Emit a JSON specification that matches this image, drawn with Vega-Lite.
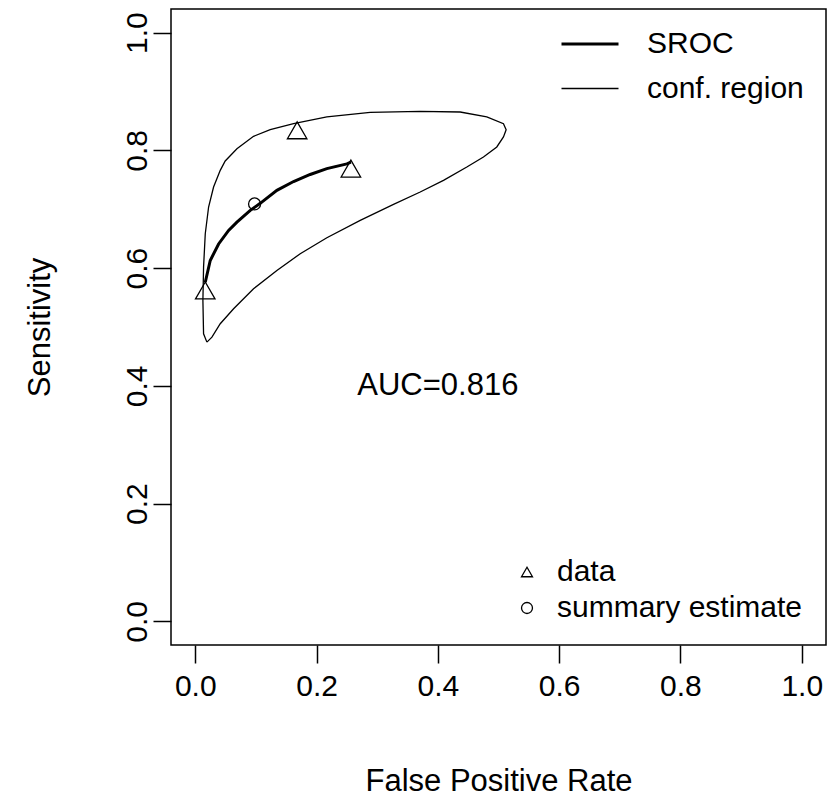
{
  "$schema": "https://vega.github.io/schema/vega-lite/v6.json",
  "width": 655,
  "height": 636,
  "autosize": {"type": "none"},
  "padding": {"left": 171, "top": 9, "right": 2, "bottom": 153},
  "background": "white",
  "config": {
    "font": "Liberation Sans",
    "view": {"stroke": "black", "strokeWidth": 1.5},
    "axis": {
      "grid": false,
      "domain": false,
      "tickColor": "black",
      "tickWidth": 1.5,
      "tickSize": 18,
      "labelFont": "Liberation Sans",
      "labelFontSize": 30,
      "labelColor": "black",
      "labelFlush": false,
      "labelOverlap": false,
      "titleFont": "Liberation Sans",
      "titleFontSize": 31,
      "titleFontWeight": "normal",
      "titleColor": "black"
    },
    "legend": {
      "labelFont": "Liberation Sans",
      "labelFontSize": 30,
      "labelColor": "black",
      "labelLimit": 0,
      "padding": 0
    }
  },
  "datasets": {
    "lines": [
      {"series": "SROC", "order": 1, "x": 0.0165, "y": 0.576},
      {"series": "SROC", "order": 2, "x": 0.0247, "y": 0.613},
      {"series": "SROC", "order": 3, "x": 0.0385, "y": 0.641},
      {"series": "SROC", "order": 4, "x": 0.0550, "y": 0.664},
      {"series": "SROC", "order": 5, "x": 0.0687, "y": 0.678},
      {"series": "SROC", "order": 6, "x": 0.0907, "y": 0.698},
      {"series": "SROC", "order": 7, "x": 0.1071, "y": 0.710},
      {"series": "SROC", "order": 8, "x": 0.1346, "y": 0.732},
      {"series": "SROC", "order": 9, "x": 0.1621, "y": 0.747},
      {"series": "SROC", "order": 10, "x": 0.1895, "y": 0.759},
      {"series": "SROC", "order": 11, "x": 0.2170, "y": 0.769},
      {"series": "SROC", "order": 12, "x": 0.2500, "y": 0.777},
      {"series": "SROC", "order": 13, "x": 0.2566, "y": 0.780},
      {"series": "conf. region", "order": 1, "x": 0.0192, "y": 0.4743},
      {"series": "conf. region", "order": 2, "x": 0.0137, "y": 0.4885},
      {"series": "conf. region", "order": 3, "x": 0.0126, "y": 0.5451},
      {"series": "conf. region", "order": 4, "x": 0.0137, "y": 0.6018},
      {"series": "conf. region", "order": 5, "x": 0.0165, "y": 0.6584},
      {"series": "conf. region", "order": 6, "x": 0.0220, "y": 0.7037},
      {"series": "conf. region", "order": 7, "x": 0.0302, "y": 0.7377},
      {"series": "conf. region", "order": 8, "x": 0.0412, "y": 0.7660},
      {"series": "conf. region", "order": 9, "x": 0.0494, "y": 0.7819},
      {"series": "conf. region", "order": 10, "x": 0.0687, "y": 0.8028},
      {"series": "conf. region", "order": 11, "x": 0.0961, "y": 0.8238},
      {"series": "conf. region", "order": 12, "x": 0.1236, "y": 0.8351},
      {"series": "conf. region", "order": 13, "x": 0.1621, "y": 0.8453},
      {"series": "conf. region", "order": 14, "x": 0.2170, "y": 0.8567},
      {"series": "conf. region", "order": 15, "x": 0.2884, "y": 0.8646},
      {"series": "conf. region", "order": 16, "x": 0.3709, "y": 0.8663},
      {"series": "conf. region", "order": 17, "x": 0.4368, "y": 0.8651},
      {"series": "conf. region", "order": 18, "x": 0.4807, "y": 0.8567},
      {"series": "conf. region", "order": 19, "x": 0.5082, "y": 0.8453},
      {"series": "conf. region", "order": 20, "x": 0.5126, "y": 0.8351},
      {"series": "conf. region", "order": 21, "x": 0.5082, "y": 0.8227},
      {"series": "conf. region", "order": 22, "x": 0.4972, "y": 0.8057},
      {"series": "conf. region", "order": 23, "x": 0.4752, "y": 0.7887},
      {"series": "conf. region", "order": 24, "x": 0.4478, "y": 0.7717},
      {"series": "conf. region", "order": 25, "x": 0.4093, "y": 0.7490},
      {"series": "conf. region", "order": 26, "x": 0.3709, "y": 0.7292},
      {"series": "conf. region", "order": 27, "x": 0.3269, "y": 0.7082},
      {"series": "conf. region", "order": 28, "x": 0.2720, "y": 0.6811},
      {"series": "conf. region", "order": 29, "x": 0.2170, "y": 0.6516},
      {"series": "conf. region", "order": 30, "x": 0.1731, "y": 0.6244},
      {"series": "conf. region", "order": 31, "x": 0.1346, "y": 0.5961},
      {"series": "conf. region", "order": 32, "x": 0.0961, "y": 0.5649},
      {"series": "conf. region", "order": 33, "x": 0.0632, "y": 0.5310},
      {"series": "conf. region", "order": 34, "x": 0.0412, "y": 0.5055},
      {"series": "conf. region", "order": 35, "x": 0.0275, "y": 0.4828},
      {"series": "conf. region", "order": 36, "x": 0.0192, "y": 0.4743}
    ],
    "points": [
      {"type": "data", "x": 0.168, "y": 0.834},
      {"type": "data", "x": 0.2566, "y": 0.769},
      {"type": "data", "x": 0.0165, "y": 0.562},
      {"type": "summary estimate", "x": 0.0978, "y": 0.709}
    ],
    "labels": [
      {"label": "AUC=0.816", "x": 0.4, "y": 0.4}
    ]
  },
  "encoding": {
    "x": {
      "field": "x", "type": "quantitative",
      "scale": {"domain": [-0.04, 1.04], "nice": false, "zero": false},
      "axis": {
        "title": "False Positive Rate",
        "values": [0, 0.2, 0.4, 0.6, 0.8, 1.0],
        "format": ".1f",
        "labelBaseline": "alphabetic",
        "labelPadding": 32,
        "titleX": 327.5,
        "titleY": 145,
        "titleBaseline": "alphabetic",
        "titleAlign": "center"
      }
    },
    "y": {
      "field": "y", "type": "quantitative",
      "scale": {"domain": [-0.04, 1.04], "nice": false, "zero": false},
      "axis": {
        "title": "Sensitivity",
        "values": [0, 0.2, 0.4, 0.6, 0.8, 1.0],
        "format": ".1f",
        "labelAngle": 270,
        "labelAlign": "center",
        "labelBaseline": "alphabetic",
        "labelPadding": 7,
        "titleAngle": 270,
        "titleX": -122,
        "titleY": 318,
        "titleBaseline": "alphabetic",
        "titleAlign": "center"
      }
    }
  },
  "layer": [
    {
      "data": {"name": "lines"},
      "mark": {"type": "line", "color": "black"},
      "encoding": {
        "order": {"field": "order", "type": "quantitative"},
        "strokeWidth": {
          "field": "series", "type": "nominal",
          "scale": {"domain": ["SROC", "conf. region"], "range": [3, 1.3]},
          "legend": {
            "title": null,
            "orient": "none",
            "legendX": 389,
            "legendY": 5,
            "symbolType": "stroke",
            "symbolSize": 3249,
            "symbolStrokeColor": "black",
            "labelOffset": 27,
            "rowPadding": -18
          }
        }
      }
    },
    {
      "data": {"name": "points"},
      "transform": [{"filter": "datum.type === 'data'"}],
      "mark": {"type": "point", "filled": false, "stroke": "black", "strokeWidth": 1.3, "opacity": 1, "size": 380},
      "encoding": {
        "shape": {
          "field": "type", "type": "nominal",
          "scale": {"domain": ["data", "summary estimate"], "range": ["triangle-up", "circle"]},
          "legend": {
            "title": null,
            "orient": "none",
            "legendX": 341,
            "legendY": 548,
            "symbolSize": 120,
            "symbolStrokeColor": "black",
            "symbolFillColor": "transparent",
            "symbolStrokeWidth": 1.3,
            "labelOffset": 15,
            "rowPadding": 6
          }
        }
      }
    },
    {
      "data": {"name": "points"},
      "transform": [{"filter": "datum.type === 'summary estimate'"}],
      "mark": {"type": "point", "filled": false, "stroke": "black", "strokeWidth": 1.3, "opacity": 1, "size": 144},
      "encoding": {
        "shape": {"field": "type", "type": "nominal"}
      }
    },
    {
      "data": {"name": "labels"},
      "mark": {"type": "text", "font": "Liberation Sans", "fontSize": 31, "color": "black", "align": "center", "baseline": "middle"},
      "encoding": {
        "text": {"field": "label", "type": "nominal"}
      }
    }
  ]
}
